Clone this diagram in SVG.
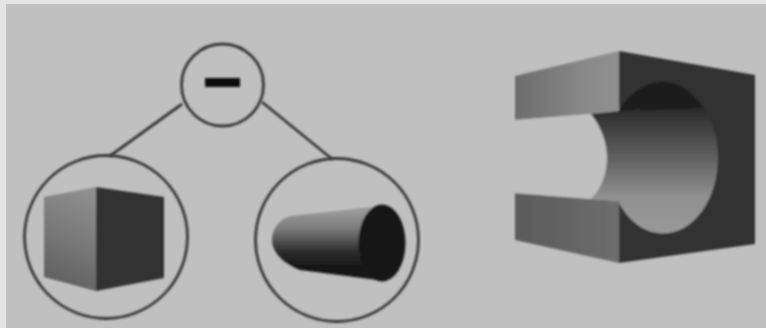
<svg xmlns="http://www.w3.org/2000/svg" width="766" height="328" viewBox="0 0 766 328">
<style>
.ring{fill:none;stroke:#383838;stroke-width:2.8}
.conn{fill:none;stroke:#383838;stroke-width:2.8}
.dark{fill:#303030}
</style>
<defs>
<filter id="soft" x="-5%" y="-5%" width="110%" height="110%"><feGaussianBlur stdDeviation="0.9"/></filter>
<linearGradient id="cubeL" gradientUnits="userSpaceOnUse" x1="96" y1="195" x2="50" y2="285"><stop offset="0" stop-color="#8f8f8f"/><stop offset=".5" stop-color="#787878"/><stop offset="1" stop-color="#5e5e5e"/></linearGradient>
<linearGradient id="cyl" gradientUnits="userSpaceOnUse" x1="0" y1="212" x2="0" y2="278"><stop offset="0" stop-color="#989898"/><stop offset=".25" stop-color="#7c7c7c"/><stop offset=".6" stop-color="#2c2c2c"/><stop offset=".85" stop-color="#161616"/><stop offset="1" stop-color="#161616"/></linearGradient>
<linearGradient id="topArm" x1="0" y1="0" x2="1" y2="0"><stop offset="0" stop-color="#6c6c6c"/><stop offset=".7" stop-color="#8a8a8a"/><stop offset="1" stop-color="#909090"/></linearGradient>
<linearGradient id="botArm" x1="0" y1="0" x2="1" y2="0"><stop offset="0" stop-color="#5a5a5a"/><stop offset="1" stop-color="#6e6e6e"/></linearGradient>
<linearGradient id="bore" gradientUnits="userSpaceOnUse" x1="0" y1="110" x2="0" y2="233"><stop offset="0" stop-color="#2c2c2c"/><stop offset=".4" stop-color="#626262"/><stop offset=".7" stop-color="#909090"/><stop offset="1" stop-color="#999999"/></linearGradient>
</defs>
<rect width="766" height="328" fill="#e4e4e4"/>
<rect x="6" y="4" width="760" height="324" fill="#c0c0c0"/>
<g id="connectors" filter="url(#soft)">
<line class="conn" x1="182" y1="104" x2="110" y2="156"/>
<line class="conn" x1="262" y1="102" x2="332" y2="159"/>
</g>
<g id="node-minus" filter="url(#soft)">
<circle class="ring" cx="222.500" cy="85" r="41"/>
<rect x="205" y="78" width="35" height="9" fill="#0a0a0a"/>
</g>
<g id="node-cube" filter="url(#soft)">
<circle class="ring" cx="106" cy="237" r="81.500"/>
<polygon points="44,197 96,187 96,291 44,277" fill="url(#cubeL)"/>
<polygon class="dark" points="96,187 164,197 164,278 96,291"/>
</g>
<g id="node-cylinder" filter="url(#soft)">
<circle class="ring" cx="337" cy="240" r="81.500"/>
<path d="M290,216 L372,207 L385,281 L300,270 C280,262 272,250 272,240 C272,228 280,219 290,216 Z" fill="url(#cyl)"/>
<ellipse cx="382" cy="243" rx="23.500" ry="38.500" fill="#161616"/>
</g>
<g id="result-shape" filter="url(#soft)">
<polygon points="515,76 619,51 619,111 591,114 515,120" fill="url(#topArm)"/>
<polygon points="515,193 591,199 619,201 619,263 515,240" fill="url(#botArm)"/>
<polygon class="dark" points="619,51 755,75 755,244 619,263"/>
<ellipse cx="663" cy="157.500" rx="55" ry="76" fill="url(#bore)"/>
<path d="M619,111 C630,93 645,82 663,82 C678,82 692,92 703,108 Z" fill="#1c1c1c"/>
<path d="M591,114 L619,111 L640,109 L640,215 L619,201 L591,199 Z" fill="url(#bore)"/>
<path d="M515,120 L591,114 C602,128 607,144 607,158 C607,172 602,188 591,199 L515,193 Z" fill="#c0c0c0"/>
</g>
</svg>
